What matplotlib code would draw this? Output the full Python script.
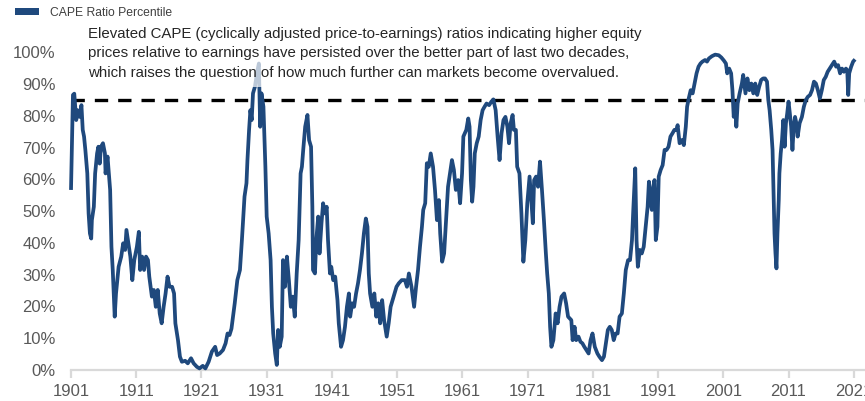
import matplotlib
matplotlib.use("Agg")
import matplotlib.pyplot as plt
from matplotlib.patches import Patch

# ---------------- data ----------------
years = [
    1901.0, 1901.3, 1901.5, 1901.8, 1902.0, 1902.3, 1902.6, 1902.8, 1903.0, 1903.2,
    1903.5, 1903.7, 1903.9, 1904.1, 1904.2, 1904.5, 1904.7, 1905.0, 1905.2, 1905.4,
    1905.6, 1905.9, 1906.2, 1906.3, 1906.6, 1906.8, 1907.0, 1907.2, 1907.4, 1907.7,
    1907.9, 1908.3, 1908.7, 1909.0, 1909.3, 1909.5, 1909.8, 1910.1, 1910.4, 1910.7,
    1911.1, 1911.4, 1911.6, 1911.9, 1912.2, 1912.5, 1912.8, 1913.0, 1913.4, 1913.7,
    1914.0, 1914.3, 1914.6, 1914.9, 1915.2, 1915.5, 1915.8, 1916.1, 1916.5, 1916.8,
    1917.0, 1917.4, 1917.7, 1918.0, 1918.5, 1918.9, 1919.4, 1919.8, 1920.3, 1920.7,
    1921.2, 1921.6, 1922.1, 1922.6, 1923.1, 1923.4, 1923.8, 1924.3, 1924.7, 1925.0,
    1925.3, 1925.6,
    1926.1, 1926.5, 1926.9, 1927.2, 1927.6, 1927.9, 1928.05, 1928.3, 1928.5, 1928.7,
    1928.9, 1929.2, 1929.5, 1929.8, 1930.0, 1930.2, 1930.5, 1930.6, 1930.8, 1931.0,
    1931.3, 1931.6, 1931.8, 1932.0, 1932.3, 1932.55, 1932.75, 1933.0, 1933.3, 1933.5,
    1933.8, 1934.1, 1934.4, 1934.7, 1935.0, 1935.3, 1935.6, 1935.9, 1936.2, 1936.4,
    1936.6, 1936.9, 1937.25, 1937.5, 1937.8, 1938.0, 1938.1, 1938.4, 1938.6, 1938.9,
    1939.1, 1939.4, 1939.65, 1939.9, 1940.2, 1940.4, 1940.7, 1940.9, 1941.2, 1941.5,
    1941.85, 1942.05, 1942.4, 1942.7, 1943.0, 1943.3, 1943.6, 1943.8, 1944.1, 1944.4,
    1944.7, 1945.0, 1945.3, 1945.6, 1945.9, 1946.2, 1946.45, 1946.65, 1946.85, 1947.2,
    1947.5, 1947.8, 1948.1, 1948.4, 1948.7, 1949.0, 1949.4, 1949.7, 1950.0, 1950.3,
    1950.6, 1950.9, 1951.25, 1951.7, 1952.2,
    1952.5, 1952.8, 1953.2, 1953.6, 1953.9, 1954.2, 1954.5, 1954.8, 1955.0, 1955.3,
    1955.55, 1955.85, 1956.15, 1956.5, 1956.8, 1957.1, 1957.4, 1957.6, 1957.9, 1958.2,
    1958.5, 1958.8, 1959.1, 1959.4, 1959.7, 1960.0, 1960.35, 1960.65, 1960.95, 1961.15,
    1961.6, 1961.9, 1962.1, 1962.3, 1962.5, 1962.7, 1962.9, 1963.2, 1963.5, 1963.8,
    1964.1, 1964.4, 1964.7, 1965.1, 1965.45, 1965.75, 1966.1, 1966.4, 1966.7, 1967.0,
    1967.3, 1967.6, 1967.9, 1968.15, 1968.4, 1968.7, 1968.9, 1969.2, 1969.4, 1969.75,
    1970.05, 1970.35, 1970.65, 1970.95, 1971.3, 1971.6, 1971.8, 1972.0, 1972.3, 1972.6,
    1972.9, 1973.2, 1973.5, 1973.8, 1974.0, 1974.25, 1974.45, 1974.65, 1974.95, 1975.3,
    1975.6, 1975.9, 1976.2, 1976.6, 1976.9, 1977.2,
    1977.7, 1977.9, 1978.2, 1978.45, 1978.8, 1979.1, 1979.4, 1979.7, 1980.0, 1980.35,
    1980.65, 1980.95, 1981.3, 1981.7, 1982.0, 1982.4, 1982.7, 1983.0, 1983.3, 1983.6,
    1983.9, 1984.2, 1984.5, 1984.8, 1985.1, 1985.45, 1985.75, 1986.05, 1986.4, 1986.7,
    1987.0, 1987.2, 1987.5, 1987.7, 1987.9, 1988.2, 1988.5, 1988.8, 1989.1, 1989.4,
    1989.6, 1989.8, 1990.05, 1990.25, 1990.45, 1990.65, 1990.9, 1991.1, 1991.4, 1991.7,
    1992.0, 1992.3, 1992.6, 1992.9, 1993.2, 1993.5, 1993.8, 1994.0, 1994.3, 1994.65,
    1994.95, 1995.25, 1995.45, 1995.7, 1996.0, 1996.3, 1996.6, 1996.9, 1997.2, 1997.5,
    1997.8, 1998.2, 1998.5, 1998.8, 1999.25, 1999.75, 2000.3,
    2000.7, 2001.1, 2001.4, 2001.6, 2001.9, 2002.2, 2002.4, 2002.6, 2002.8, 2003.0,
    2003.2, 2003.5, 2003.85, 2004.05, 2004.4, 2004.7, 2005.0, 2005.3, 2005.6, 2005.9,
    2006.2, 2006.5, 2006.8, 2007.1, 2007.4, 2007.7, 2007.9, 2008.1, 2008.35, 2008.55,
    2008.7, 2008.85, 2009.0, 2009.15, 2009.3, 2009.5, 2009.6, 2009.8, 2010.0, 2010.2,
    2010.4, 2010.6, 2010.8, 2011.0, 2011.2, 2011.4, 2011.6, 2011.8, 2012.0, 2012.2,
    2012.4, 2012.7, 2013.05, 2013.35, 2013.65, 2013.95, 2014.3, 2014.6, 2014.9, 2015.2,
    2015.5, 2015.8, 2016.1, 2016.4, 2016.7, 2017.0, 2017.3, 2017.65, 2018.0, 2018.3,
    2018.6, 2018.9, 2019.2, 2019.5, 2019.8, 2020.0, 2020.15, 2020.3, 2020.6, 2020.9,
    2021.2,
]

cape_percentile = [
    56.7, 86.6, 87.0, 78.7, 81.8, 79.7, 83.4, 75.6, 73.5, 69.3,
    61.9, 49.3, 43.0, 41.4, 47.2, 51.4, 61.9, 68.2, 70.3, 65.0,
    70.3, 71.4, 68.2, 61.9, 67.2, 61.9, 56.7, 38.8, 31.5, 16.8,
    24.1, 32.5, 35.7, 39.9, 37.8, 44.1, 39.9, 35.7, 28.3, 34.6,
    38.8, 43.5, 31.5, 35.7, 31.5, 35.7, 34.6, 29.4, 23.1, 25.2,
    19.9, 25.2, 17.8, 14.7, 19.9, 24.1, 29.4, 26.2, 26.2, 24.1,
    14.7, 9.4, 4.2, 2.6, 2.9, 2.1, 3.7, 2.1, 1.0, 0.5,
    1.3, 0.5, 2.6, 5.8, 7.3, 4.7, 5.2, 6.3, 8.4, 11.5,
    11.0, 13.0,
    21.0, 28.3, 31.5, 40.9, 54.6, 58.8, 66.1, 75.6, 81.8, 78.7,
    87.1, 89.2, 93.4, 96.5, 76.6, 87.1, 82.9, 76.6, 64.0, 48.3,
    43.0, 34.6, 19.9, 11.5, 5.2, 1.6, 12.6, 7.3, 10.5, 34.6,
    26.2, 35.7, 28.3, 19.9, 23.1, 16.8, 30.4, 40.9, 61.9, 64.0,
    69.3, 76.6, 80.3, 72.4, 70.3, 51.4, 31.5, 30.4, 40.9, 48.3,
    36.7, 46.2, 52.5, 49.3, 51.4, 40.9, 30.4, 32.5, 28.3, 29.4,
    22.0, 14.7, 7.3, 9.4, 13.6, 19.9, 24.1, 16.8, 21.0, 19.9,
    24.1, 27.3, 31.5, 36.7, 43.0, 47.7, 45.1, 30.4, 24.1, 19.9,
    24.1, 16.8, 21.0, 14.7, 22.0, 15.7, 10.5, 14.7, 19.9, 22.0,
    24.1, 26.2, 27.3, 28.3, 28.3,
    26.2, 30.4, 26.2, 19.9, 26.2, 31.5, 38.8, 45.1, 50.4, 52.5,
    65.1, 64.0, 68.2, 64.0, 56.7, 47.2, 53.5, 43.0, 34.1, 36.7,
    47.2, 57.7, 61.9, 66.1, 63.0, 56.7, 59.8, 52.5, 61.9, 73.5,
    75.6, 79.2, 76.6, 59.8, 53.0, 57.7, 68.2, 71.4, 73.5, 78.7,
    81.8, 82.9, 83.9, 83.4, 84.5, 85.2, 81.8, 73.5, 66.1, 74.5,
    78.7, 79.7, 76.6, 71.4, 77.7, 80.3, 75.6, 75.6, 64.0, 61.9,
    49.3, 34.1, 40.9, 52.5, 60.9, 52.5, 46.2, 59.8, 60.9, 57.7,
    65.6, 56.7, 47.2, 36.7, 30.4, 24.1, 13.6, 7.3, 9.4, 17.8,
    14.7, 19.9, 23.1, 24.1, 21.0, 16.8,
    15.7, 9.4, 13.6, 9.4, 10.5, 8.9, 8.4, 7.3, 6.3, 5.2,
    9.4, 11.5, 7.3, 5.2, 4.2, 3.1, 4.2, 8.4, 12.6, 13.6,
    12.6, 9.4, 11.5, 11.5, 16.8, 17.8, 24.1, 31.5, 34.6, 34.6,
    40.9, 50.4, 63.5, 40.9, 32.5, 37.8, 36.7, 38.8, 45.1, 51.4,
    59.3, 53.5, 50.4, 57.7, 59.8, 40.9, 45.1, 60.9, 63.0, 64.5,
    69.3, 69.3, 70.3, 73.5, 74.5, 75.6, 75.6, 77.1, 71.4, 72.4,
    70.8, 76.6, 82.9, 85.5, 88.1, 87.1, 90.2, 93.4, 95.5, 96.5,
    97.1, 97.6, 97.1, 98.1, 98.8, 99.3, 99.1,
    98.4, 97.4, 96.5, 93.4, 94.9, 93.4, 88.1, 79.7, 83.9, 76.6,
    83.9, 87.1, 90.2, 92.9, 87.1, 91.8, 88.1, 90.2, 87.1, 90.2,
    86.6, 89.2, 91.3, 91.8, 91.8, 90.8, 85.0, 81.8, 75.6, 69.3,
    56.7, 43.0, 36.7, 32.0, 43.0, 53.5, 61.9, 68.2, 72.4, 78.7,
    70.3, 77.7, 80.8, 84.5, 80.8, 76.6, 69.3, 76.6, 79.7, 77.7,
    73.5, 77.7, 79.7, 82.9, 85.0, 86.0, 86.6, 88.1, 90.8, 90.2,
    88.1, 85.5, 88.1, 91.3, 92.3, 93.9, 94.9, 96.0, 97.1, 95.5,
    96.0, 93.4, 94.9, 93.9, 94.9, 94.4, 86.6, 93.4, 95.5, 97.1,
    97.8,
]

x_tick_years = list(range(1901, 2022, 10))
y_tick_values = [0, 10, 20, 30, 40, 50, 60, 70, 80, 90, 100]
y_tick_labels = [f"{v}%" for v in y_tick_values]
threshold = 85
legend_label = "CAPE Ratio Percentile"
annotation = ("Elevated CAPE (cyclically adjusted price-to-earnings) ratios indicating higher equity\n"
              "prices relative to earnings have persisted over the better part of last two decades,\n"
              "which raises the question of how much further can markets become overvalued.")

# ---------------- style ----------------
plt.rcParams["font.family"] = ["Liberation Sans", "DejaVu Sans"]
BLUE = "#1F497D"
GREY_TXT = "#595959"
W, H = 865, 401

fig = plt.figure(figsize=(W / 100, H / 100), dpi=100)
ax = fig.add_axes([71 / W, (H - 370) / H, 794 / W, (370 - 52.4) / H])

ax.plot(years, cape_percentile, color=BLUE, lw=2.7, solid_joinstyle="round",
        solid_capstyle="butt", clip_on=False, zorder=3)
ax.axhline(threshold, color="black", lw=2.4, dashes=(4, 3), zorder=2)

ax.set_xlim(1901, 1901 + 794 / 6.523)
ax.set_ylim(0, 100)
ax.set_xticks(x_tick_years)
ax.set_xticklabels([str(y) for y in x_tick_years])
ax.set_yticks(y_tick_values)
ax.set_yticklabels(y_tick_labels)

for s in ("top", "right", "left"):
    ax.spines[s].set_visible(False)
ax.spines["bottom"].set_color("#d9d9d9")
ax.spines["bottom"].set_linewidth(1.6)

ax.tick_params(axis="y", length=0, pad=11, labelsize=12, labelcolor=GREY_TXT)
ax.tick_params(axis="x", length=6, width=1.6, color="#d9d9d9", pad=4,
               labelsize=12, labelcolor=GREY_TXT)

fig.text(88 / W, 1 - 27 / H, annotation, fontsize=10.8, color="#262626",
         ha="left", va="top", linespacing=1.5,
         bbox=dict(boxstyle="square,pad=0.45", fc="white", ec="none", alpha=0.7))

fig.legend(handles=[Patch(facecolor=BLUE, edgecolor="none")], labels=[legend_label],
           loc="upper left", bbox_to_anchor=(15 / W, 1 - 7 / H), frameon=False,
           fontsize=8.7, handlelength=2.0, handleheight=0.5, handletextpad=0.9,
           borderpad=0, borderaxespad=0, labelcolor="#404040")

fig.savefig("out.png", dpi=100)
